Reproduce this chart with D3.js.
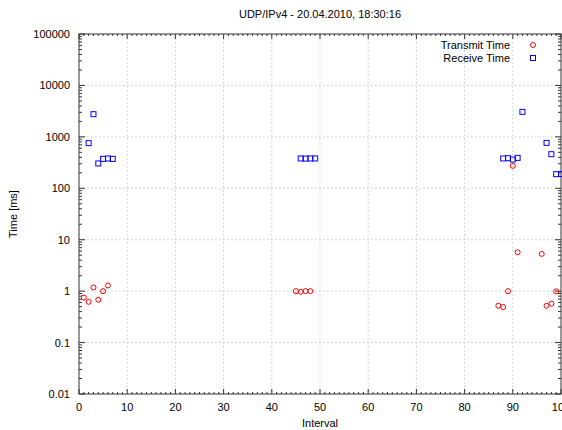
<!DOCTYPE html>
<html lang="en">
<head>
    <meta charset="UTF-8">
    <title>UDP/IPv4 - 20.04.2010, 18:30:16</title>
    <script src="https://d3js.org/d3.v7.min.js"></script>
    <style>
        body { margin: 0; background: #fff; }
        text {
            font-family: "Liberation Sans", Arial, sans-serif;
            font-size: 11px;
            fill: #000;
        }
        .grid line {
            stroke: #c8c8c8;
            stroke-width: 1px;
            stroke-dasharray: 1.5, 2.5;
        }
        .tick-mark { stroke: #333; stroke-width: 1px; }
    </style>
</head>
<body>
<svg id="chart" width="562" height="430"></svg>

<script>
// data
const transmitX = [1, 2, 3, 4, 5, 6, 45, 46, 47, 48, 87, 88, 89, 90, 91, 96, 97, 98, 99];
const transmitY = [0.75, 0.62, 1.18, 0.68, 1.0, 1.29, 1.0, 0.97, 1.0, 1.0, 0.52, 0.49, 1.0, 273, 5.7, 5.3, 0.52, 0.57, 0.99];

const receiveX = [2, 3, 4, 5, 6, 7, 46, 47, 48, 49, 88, 89, 90, 91, 92, 97, 98, 99, 100];
const receiveY = [754, 2760, 304, 373, 380, 373, 380, 378, 380, 380, 380, 385, 363, 390, 3065, 764, 460, 188, 190];

const xTicks = [0, 10, 20, 30, 40, 50, 60, 70, 80, 90, 100];
const yTicks = [0.01, 0.1, 1, 10, 100, 1000, 10000, 100000];
const yLabels = ["0.01", "0.1", "1", "10", "100", "1000", "10000", "100000"];

const seriesNames = ["Transmit Time", "Receive Time"];

const svg = d3.select("#chart");
const mLeft = 79, mRight = 561, mTop = 34, mBottom = 394;

const x = d3.scaleLinear().domain([0, 100]).range([mLeft, mRight]);
const y = d3.scaleLog().domain([0.01, 100000]).range([mBottom, mTop]);

// dotted grid
const grid = svg.append("g").attr("class", "grid");
grid.selectAll(".vx")
    .data(xTicks.slice(1, -1))
    .enter().append("line")
    .attr("x1", d => x(d)).attr("x2", d => x(d))
    .attr("y1", mTop).attr("y2", mBottom);
grid.selectAll(".hy")
    .data(yTicks.slice(1, -1))
    .enter().append("line")
    .attr("x1", mLeft).attr("x2", mRight)
    .attr("y1", d => y(d)).attr("y2", d => y(d));

// tick marks, inward, mirrored on all sides
const ticks = svg.append("g");
const minorX = d3.range(1, 100).filter(v => v % 10 !== 0);
minorX.forEach(v => {
    ticks.append("line").attr("class", "tick-mark")
        .attr("x1", x(v)).attr("x2", x(v)).attr("y1", mBottom).attr("y2", mBottom - 2);
    ticks.append("line").attr("class", "tick-mark")
        .attr("x1", x(v)).attr("x2", x(v)).attr("y1", mTop).attr("y2", mTop + 2);
});
xTicks.forEach(v => {
    ticks.append("line").attr("class", "tick-mark")
        .attr("x1", x(v)).attr("x2", x(v)).attr("y1", mBottom).attr("y2", mBottom - 5);
    ticks.append("line").attr("class", "tick-mark")
        .attr("x1", x(v)).attr("x2", x(v)).attr("y1", mTop).attr("y2", mTop + 5);
});
const minorY = [];
yTicks.slice(0, -1).forEach(d => {
    for (let k = 2; k < 10; k++) minorY.push(d * k);
});
minorY.forEach(v => {
    ticks.append("line").attr("class", "tick-mark")
        .attr("x1", mLeft).attr("x2", mLeft + 3).attr("y1", y(v)).attr("y2", y(v));
    ticks.append("line").attr("class", "tick-mark")
        .attr("x1", mRight).attr("x2", mRight - 3).attr("y1", y(v)).attr("y2", y(v));
});
yTicks.forEach(v => {
    ticks.append("line").attr("class", "tick-mark")
        .attr("x1", mLeft).attr("x2", mLeft + 6).attr("y1", y(v)).attr("y2", y(v));
    ticks.append("line").attr("class", "tick-mark")
        .attr("x1", mRight).attr("x2", mRight - 6).attr("y1", y(v)).attr("y2", y(v));
});

// frame
svg.append("rect")
    .attr("x", mLeft).attr("y", mTop)
    .attr("width", mRight - mLeft).attr("height", mBottom - mTop)
    .attr("fill", "none").attr("stroke", "#333").attr("stroke-width", 1);

// tick labels
svg.append("g").selectAll("text")
    .data(xTicks)
    .enter().append("text")
    .attr("x", d => x(d)).attr("y", mBottom + 17)
    .attr("text-anchor", "middle")
    .text(d => d);
svg.append("g").selectAll("text")
    .data(yTicks)
    .enter().append("text")
    .attr("x", mLeft - 9).attr("y", d => y(d) + 4)
    .attr("text-anchor", "end")
    .text((d, i) => yLabels[i]);

// title and axis labels
svg.append("text").attr("x", (mLeft + mRight) / 2).attr("y", 18)
    .attr("text-anchor", "middle").text("UDP/IPv4 - 20.04.2010, 18:30:16");
svg.append("text").attr("x", (mLeft + mRight) / 2).attr("y", 427)
    .attr("text-anchor", "middle").text("Interval");
svg.append("text")
    .attr("transform", "translate(17," + ((mTop + mBottom) / 2) + ") rotate(-90)")
    .attr("text-anchor", "middle").text("Time [ms]");

// points
const transmit = transmitX.map((v, i) => ({x: v, y: transmitY[i]}));
const receive = receiveX.map((v, i) => ({x: v, y: receiveY[i]}));

svg.append("g").selectAll("circle")
    .data(transmit)
    .enter().append("circle")
    .attr("cx", d => x(d.x)).attr("cy", d => y(d.y))
    .attr("r", 2.5)
    .attr("fill", "none").attr("stroke", "#f00").attr("stroke-width", 1);

svg.append("g").selectAll("rect")
    .data(receive)
    .enter().append("rect")
    .attr("x", d => x(d.x) - 2.5).attr("y", d => y(d.y) - 2.5)
    .attr("width", 5).attr("height", 5)
    .attr("fill", "none").attr("stroke", "#00f").attr("stroke-width", 1);

// legend
const legend = svg.append("g");
legend.append("text").attr("x", 510).attr("y", 49).attr("text-anchor", "end").text(seriesNames[0]);
legend.append("text").attr("x", 510).attr("y", 62).attr("text-anchor", "end").text(seriesNames[1]);
legend.append("circle").attr("cx", 533).attr("cy", 45).attr("r", 2.5)
    .attr("fill", "none").attr("stroke", "#f00");
legend.append("rect").attr("x", 530.5).attr("y", 55.5).attr("width", 5).attr("height", 5)
    .attr("fill", "none").attr("stroke", "#00f");
</script>
</body>
</html>
